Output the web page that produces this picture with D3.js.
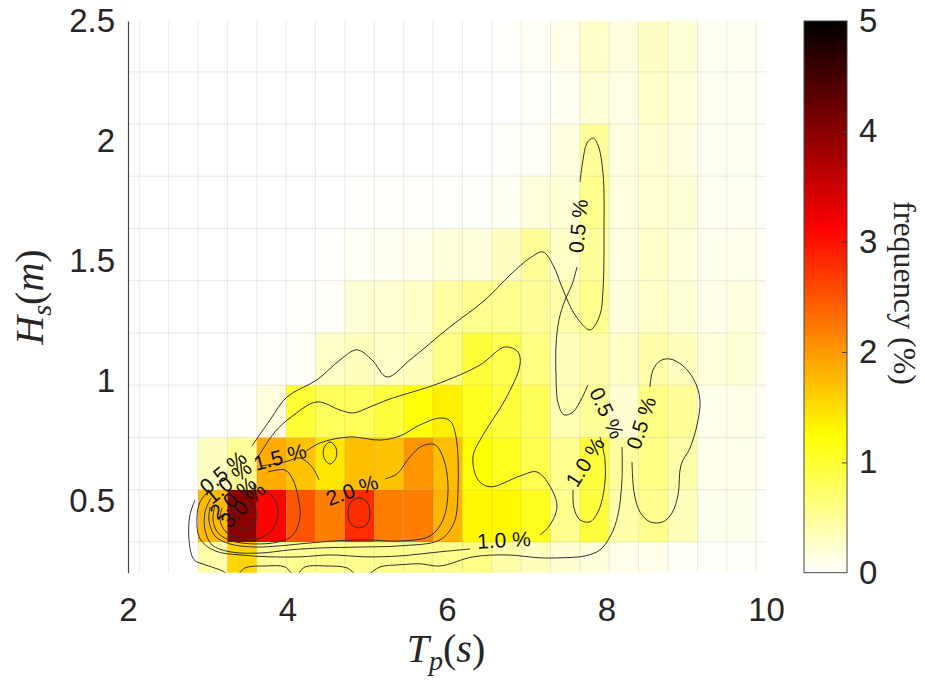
<!DOCTYPE html>
<html><head><meta charset="utf-8">
<script src="https://cdn.jsdelivr.net/npm/d3@7"></script>
<style>body{margin:0;background:#fff}</style></head>
<body><svg id="c" width="925" height="681"></svg>
<script>
// ---------- DATA ----------
const tpEdges = [1.774,2.142,2.510,2.879,3.247,3.615,3.984,4.352,4.720,5.089,5.457,5.825,6.193,6.562,6.930,7.298,7.667,8.035,8.403,8.772,9.140,9.508,9.877,10.245];
const hsEdges = [0.110,0.328,0.546,0.764,0.982,1.199,1.417,1.635,1.853,2.070,2.288,2.506];
// frequency (%) per cell, rows from lowest Hs bin upward, columns follow tpEdges
const freq = [
 [0,0,0,0.42,1.55,0.5,0.56,0.56,0.56,0.56,0.56,0.56,0.6,0.42,0.32,0.22,0.17,0.1,0.1,0.05,0.03,0.03,0.02],
 [0,0,0,1.75,3.97,3.1,2.5,2.2,2.8,2.2,2.2,1.8,1.3,1.3,1.1,0.56,0.95,0.42,0.56,0.32,0.08,0.08,0.05],
 [0,0,0,0.3,0.5,1.87,1.7,1.43,1.73,1.7,2.02,1.73,1.25,1.1,0.86,0.56,0.95,0.47,0.6,0.42,0.1,0.1,0.06],
 [0,0,0,0,0.02,0.15,1.0,0.8,0.8,0.95,1.2,1.36,1.1,0.95,0.8,0.37,0.5,0.22,0.6,0.5,0.1,0.12,0.07],
 [0,0,0,0,0,0.02,0.05,0.27,0.32,0.27,0.32,0.6,0.96,0.86,0.61,0.32,0.42,0.27,0.42,0.32,0.17,0.2,0.1],
 [0,0,0,0,0,0,0.02,0.05,0.2,0.22,0.27,0.45,0.56,0.56,0.5,0.42,0.56,0.17,0.27,0.2,0.12,0.15,0.07],
 [0,0,0,0,0,0,0,0.02,0.05,0.07,0.1,0.17,0.17,0.3,0.5,0.27,0.5,0.15,0.27,0.17,0.08,0.1,0.05],
 [0,0,0,0,0,0,0,0,0.02,0.02,0.02,0.02,0.03,0.07,0.17,0.2,0.57,0.15,0.22,0.2,0.07,0.07,0.05],
 [0,0,0,0,0,0,0,0,0,0,0,0,0,0.03,0.04,0.15,0.5,0.15,0.22,0.15,0.07,0.07,0.04],
 [0,0,0,0,0,0,0,0,0,0,0,0,0,0,0.03,0.07,0.2,0.12,0.27,0.17,0.07,0.06,0.04],
 [0,0,0,0,0,0,0,0,0,0,0,0,0,0.02,0.05,0.1,0.27,0.15,0.29,0.2,0.07,0.07,0.05]
];
const xTicks = [2,4,6,8,10];
const yTicks = [0.5,1,1.5,2,2.5];
const cbTicks = [0,1,2,3,4,5];

// contour lines [Tp, Hs] (open = broken by a label)
const contourLines = [
 {level:0.5, closed:false, pts:[[8.194,0.724],[8.194,0.587],[8.144,0.441],[8.056,0.357],[7.918,0.295],[7.730,0.270],[7.417,0.262],[7.166,0.262],[6.752,0.274],[6.326,0.266],[5.912,0.228],[5.661,0.237],[5.411,0.233],[5.160,0.224],[4.997,0.191],[4.871,0.191],[4.746,0.220],[4.470,0.228],[4.219,0.224],[4.094,0.187],[3.969,0.224],[3.718,0.228],[3.467,0.220],[3.342,0.183],[3.154,0.212],[2.966,0.233],[2.828,0.254],[2.765,0.337],[2.777,0.441],[2.840,0.503]]},
 {level:0.5, closed:false, pts:[[3.555,0.729],[3.781,0.837],[3.994,0.933],[4.370,1.004],[4.658,1.087],[4.871,1.129],[5.060,1.087],[5.248,1.016],[5.536,1.087],[6.038,1.225],[6.477,1.337],[6.790,1.441],[7.041,1.512],[7.204,1.537],[7.329,1.483],[7.455,1.379],[7.605,1.275],[7.793,1.212],[7.918,1.275],[7.956,1.379],[7.969,1.629],[7.956,1.866],[7.893,1.983],[7.831,2.012],[7.755,1.991],[7.705,1.921],[7.668,1.829]]},
 {level:0.5, closed:false, pts:[[7.630,1.475],[7.567,1.400],[7.480,1.337],[7.404,1.254],[7.367,1.149],[7.367,1.024],[7.392,0.908],[7.467,0.858],[7.580,0.870],[7.693,0.929],[7.768,0.983]]},
 {level:0.5, closed:false, pts:[[8.545,0.974],[8.583,1.045],[8.671,1.083],[8.796,1.091],[8.959,1.062],[9.097,1.004],[9.172,0.921],[9.135,0.816],[9.047,0.720],[8.934,0.649],[8.897,0.524],[8.821,0.449],[8.709,0.412],[8.545,0.412],[8.420,0.453],[8.345,0.537],[8.320,0.662]]},
 {level:1.0, closed:false, pts:[[7.918,0.766],[7.981,0.670],[7.969,0.545],[7.893,0.453],[7.793,0.412],[7.668,0.420],[7.592,0.470],[7.580,0.545]]},
 {level:1.0, closed:false, pts:[[3.592,0.662],[3.843,0.787],[4.031,0.845],[4.370,0.912],[4.658,0.878],[4.821,0.866],[5.034,0.891],[5.248,0.920],[5.912,0.991],[6.414,1.066],[6.727,1.141],[6.890,1.120],[6.915,1.066],[6.727,0.920],[6.451,0.774],[6.326,0.683],[6.389,0.587],[6.539,0.558],[6.915,0.603],[7.129,0.620],[7.317,0.545],[7.379,0.474],[7.292,0.399],[7.166,0.357]]},
 {level:1.0, closed:false, pts:[[6.288,0.299],[5.912,0.287],[5.411,0.270],[4.997,0.266],[4.533,0.274],[4.157,0.266],[3.781,0.266],[3.404,0.274],[3.091,0.291],[2.903,0.341],[2.865,0.428],[2.903,0.495],[3.003,0.537]]},
 {level:1.5, closed:false, pts:[[4.219,0.703],[4.408,0.741],[4.784,0.766],[5.160,0.753],[5.411,0.770],[5.661,0.816],[5.912,0.845],[6.038,0.833],[6.113,0.766],[6.138,0.545],[6.088,0.408],[5.912,0.337],[5.411,0.312],[4.909,0.307],[4.408,0.303],[4.031,0.295],[3.655,0.282],[3.279,0.287],[3.053,0.316],[2.966,0.378],[2.966,0.453],[3.041,0.512]]},
 {level:1.5, closed:true, pts:[[4.533,0.745],[4.608,0.720],[4.608,0.679],[4.533,0.653],[4.458,0.679],[4.458,0.720]]},
 {level:2.0, closed:false, pts:[[3.680,0.645],[3.969,0.662],[4.157,0.678],[4.307,0.641],[4.395,0.587]]},
 {level:2.0, closed:false, pts:[[5.223,0.591],[5.373,0.612],[5.536,0.683],[5.687,0.728],[5.850,0.733],[5.962,0.670],[6.013,0.545],[5.950,0.420],[5.787,0.353],[5.411,0.332],[4.997,0.337],[4.571,0.332],[4.157,0.320],[3.906,0.312],[3.592,0.307],[3.279,0.320],[3.091,0.353],[3.016,0.416],[3.028,0.474]]},
 {level:2.5, closed:false, pts:[[3.755,0.620],[3.969,0.628],[4.069,0.587],[4.132,0.516],[4.157,0.433],[4.069,0.357],[3.881,0.328],[3.592,0.320],[3.304,0.332],[3.129,0.366],[3.066,0.420],[3.091,0.482]]},
 {level:3.0, closed:false, pts:[[3.718,0.545],[3.843,0.503],[3.881,0.441],[3.806,0.378],[3.630,0.341],[3.404,0.341],[3.229,0.370],[3.154,0.420],[3.179,0.470]]},
 {level:4.0, closed:true, pts:[[3.467,0.491],[3.580,0.474],[3.618,0.437],[3.567,0.395],[3.467,0.378],[3.367,0.395],[3.317,0.437],[3.354,0.474]]},
 {level:2.5, closed:true, pts:[[4.897,0.512],[4.997,0.495],[5.034,0.449],[4.997,0.403],[4.897,0.387],[4.796,0.403],[4.759,0.449],[4.796,0.495]]}
];
const contourLabels = [
 {text:"0.5 %", tp:3.191, hs:0.620, angle:-40},
 {text:"1.0 %", tp:3.254, hs:0.578, angle:-40},
 {text:"2.0 %", tp:3.317, hs:0.512, angle:-40},
 {text:"3.0 %", tp:3.442, hs:0.482, angle:-45},
 {text:"1.5 %", tp:3.906, hs:0.683, angle:-15},
 {text:"2.0 %", tp:4.809, hs:0.545, angle:-20},
 {text:"1.0 %", tp:6.715, hs:0.337, angle:-3},
 {text:"1.0 %", tp:7.730, hs:0.662, angle:-58},
 {text:"0.5 %", tp:8.006, hs:0.866, angle:65},
 {text:"0.5 %", tp:8.433, hs:0.824, angle:-72},
 {text:"0.5 %", tp:7.643, hs:1.645, angle:-85}
];

// ---------- DRAW ----------
const svg = d3.select('#c');
const x = d3.scaleLinear().domain([2,10]).range([128,766]);
const y = d3.scaleLinear().domain([0.2,2.5]).range([572.7,21]);
const color = d3.scaleLinear().domain([0,1.25,3.125,5]).range(['#ffffff','#ffff00','#ff0000','#000000']).clamp(true);
const sansFont = "'Liberation Sans', Arial, Helvetica, sans-serif";
const serifFont = "'Liberation Serif', 'Times New Roman', serif";

const defs = svg.append('defs');
defs.append('clipPath').attr('id','plotclip').append('rect')
  .attr('x',x(2)).attr('y',y(2.5)).attr('width',x(10)-x(2)).attr('height',y(0.2)-y(2.5));

const plot = svg.append('g').attr('clip-path','url(#plotclip)');
freq.forEach((row,r)=>{
  row.forEach((v,i)=>{
    plot.append('rect')
      .attr('x',x(tpEdges[i])).attr('y',y(hsEdges[r+1]))
      .attr('width',x(tpEdges[i+1])-x(tpEdges[i]))
      .attr('height',y(hsEdges[r])-y(hsEdges[r+1]))
      .attr('fill',color(v));
  });
});
const grid = plot.append('g').attr('stroke','#000').attr('stroke-opacity',0.085).attr('stroke-width',1);
tpEdges.forEach(e=>grid.append('line').attr('x1',x(e)).attr('x2',x(e)).attr('y1',y(hsEdges[0])).attr('y2',y(hsEdges[hsEdges.length-1])));
hsEdges.forEach(e=>grid.append('line').attr('y1',y(e)).attr('y2',y(e)).attr('x1',x(tpEdges[0])).attr('x2',x(tpEdges[tpEdges.length-1])));

const lineOpen = d3.line().x(d=>x(d[0])).y(d=>y(d[1])).curve(d3.curveCatmullRom.alpha(0.5));
const lineClosed = d3.line().x(d=>x(d[0])).y(d=>y(d[1])).curve(d3.curveCatmullRomClosed.alpha(0.5));
plot.append('g').selectAll('path').data(contourLines).join('path')
  .attr('d',d=>(d.closed?lineClosed:lineOpen)(d.pts))
  .attr('fill','none').attr('stroke','#303030').attr('stroke-width',1);

plot.append('g').selectAll('text').data(contourLabels).join('text')
  .attr('transform',d=>`translate(${x(d.tp)},${y(d.hs)}) rotate(${d.angle})`)
  .attr('text-anchor','middle').attr('dominant-baseline','central')
  .attr('font-family',sansFont).attr('font-size',21).attr('fill','#111')
  .text(d=>d.text);

const yAxis = svg.append('g').attr('transform',`translate(${x(2)},0)`)
  .call(d3.axisLeft(y).tickValues(yTicks).tickSize(0).tickSizeOuter(0).tickPadding(13).tickFormat(d=>String(d)));
yAxis.select('.domain').attr('stroke','#444').attr('stroke-width',1.2);
yAxis.selectAll('text').attr('font-family',sansFont).attr('font-size',33).attr('fill','#262626');

const xAxis = svg.append('g').attr('transform',`translate(0,${y(0.2)})`)
  .call(d3.axisBottom(x).tickValues(xTicks).tickSize(0).tickPadding(25).tickFormat(d=>String(d)));
xAxis.select('.domain').remove();
xAxis.selectAll('text').attr('font-family',sansFont).attr('font-size',33).attr('fill','#262626');

const xt = svg.append('text').attr('x',446).attr('y',662).attr('text-anchor','middle')
  .attr('font-family',serifFont).attr('font-size',40).attr('fill','#262626');
xt.append('tspan').attr('font-style','italic').text('T');
xt.append('tspan').attr('font-style','italic').attr('font-size',28).attr('dy',8).text('p');
xt.append('tspan').attr('dy',-8).text('(');
xt.append('tspan').attr('font-style','italic').text('s');
xt.append('tspan').text(')');

const yt = svg.append('text').attr('transform','translate(43,297) rotate(-90)').attr('text-anchor','middle')
  .attr('font-family',serifFont).attr('font-size',40).attr('fill','#262626');
yt.append('tspan').attr('font-style','italic').text('H');
yt.append('tspan').attr('font-style','italic').attr('font-size',28).attr('dy',8).text('s');
yt.append('tspan').attr('dy',-8).text('(');
yt.append('tspan').attr('font-style','italic').text('m');
yt.append('tspan').text(')');

const cb = d3.scaleLinear().domain([0,5]).range([572.7,21]);
const cbX0 = 804, cbX1 = 847;
const grad = defs.append('linearGradient').attr('id','cbgrad').attr('x1',0).attr('y1',1).attr('x2',0).attr('y2',0);
[0,1.25,3.125,5].forEach(v=>grad.append('stop').attr('offset',v/5).attr('stop-color',color(v)));
svg.append('rect').attr('x',cbX0).attr('y',cb(5)).attr('width',cbX1-cbX0).attr('height',cb(0)-cb(5))
  .attr('fill','url(#cbgrad)').attr('stroke','#444').attr('stroke-width',1);
const cbTickG = svg.append('g').attr('transform',`translate(${cbX1},0)`)
  .call(d3.axisLeft(cb).tickValues(cbTicks.slice(1,5)).tickSize(5).tickFormat(''));
cbTickG.select('.domain').remove();
cbTickG.selectAll('line').attr('stroke','#444');
const cbAxis = svg.append('g').attr('transform',`translate(${cbX1},0)`)
  .call(d3.axisRight(cb).tickValues(cbTicks).tickSize(0).tickPadding(12).tickFormat(d=>String(d)));
cbAxis.select('.domain').remove();
cbAxis.selectAll('text').attr('font-family',sansFont).attr('font-size',33).attr('fill','#262626');

svg.append('text').attr('transform','translate(894,293) rotate(90)').attr('text-anchor','middle')
  .attr('font-family',serifFont).attr('font-size',32).attr('fill','#262626').text('frequency (%)');
</script></body></html>
